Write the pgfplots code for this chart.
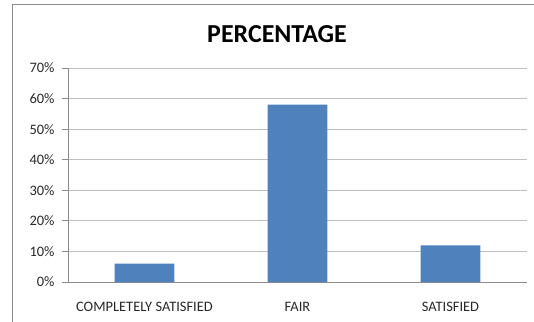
\documentclass[border=0pt]{standalone}
\usepackage{pgfplots}
\pgfplotsset{compat=1.18}
\usepackage{fontspec}
\setmainfont{Carlito}
\definecolor{barblue}{RGB}{79,129,189}
\definecolor{gridgray}{RGB}{192,192,192}
\definecolor{axisgray}{RGB}{140,140,140}
\definecolor{labelgray}{RGB}{40,40,40}

\begin{document}
\begin{tikzpicture}
\useasboundingbox (0,0) rectangle (534bp,322bp);
% chart frame (left and top edges)
\draw[axisgray, line width=0.9bp] (12.6bp,0) -- (12.6bp,317.2bp) -- (534bp,317.2bp);
\node[font=\fontsize{26}{30}\selectfont\bfseries] at (277bp,288bp) {PERCENTAGE};
\begin{axis}[
  at={(68bp,40bp)}, anchor=south west,
  scale only axis, width=459bp, height=214bp,
  xmin=-0.5, xmax=2.5, ymin=0, ymax=70,
  ybar, bar width=0.39,
  ytick={0,10,...,70},
  yticklabels={0\%,10\%,20\%,30\%,40\%,50\%,60\%,70\%},
  xtick={0,1,2},
  xticklabels={COMPLETELY SATISFIED,FAIR,SATISFIED},
  ymajorgrids,
  major grid style={gridgray, line width=0.9bp},
  axis x line*=bottom, axis y line*=left,
  axis line style={axisgray, line width=0.9bp},
  tick style={axisgray, line width=0.9bp},
  tick align=outside,
  major tick length=6bp,
  x tick style={draw=none},
  extra x ticks={-0.5,0.5,1.5,2.5},
  extra x tick labels={},
  extra x tick style={grid=none, major tick length=4bp, tick style={draw=axisgray, line width=0.9bp}},
  yticklabel style={font=\fontsize{14.5}{16}\selectfont, text=labelgray, anchor=east, xshift=-4bp},
  xticklabel style={font=\fontsize{14.5}{16}\selectfont, text=labelgray, anchor=base, yshift=-23.5bp},
  clip=false,
]
\addplot[fill=barblue, draw=none] coordinates {(0,6) (1,58) (2,12)};
\end{axis}
\end{tikzpicture}
\end{document}
